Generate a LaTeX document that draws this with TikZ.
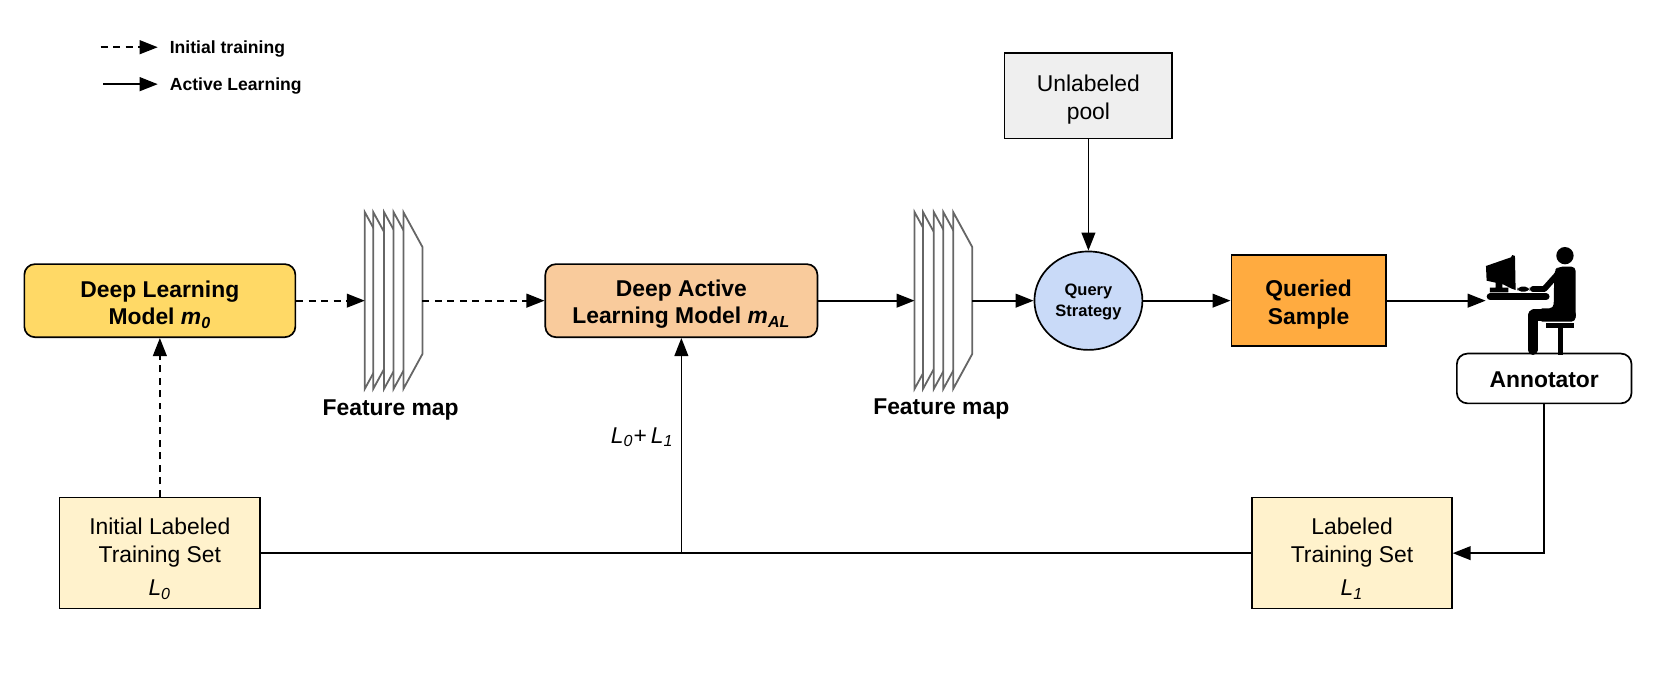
\documentclass[tikz,border=0pt]{standalone}
\usepackage{fontspec}
\setmainfont{Liberation Sans}
\usetikzlibrary{shapes.geometric, arrows.meta}
\definecolor{modelyellow}{HTML}{FFD966}
\definecolor{modelorange}{HTML}{F9CB9C}
\definecolor{querysample}{HTML}{FFAB40}
\definecolor{queryblue}{HTML}{C9DAF8}
\definecolor{setyellow}{HTML}{FFF2CC}
\definecolor{poolgrey}{HTML}{EFEFEF}
\definecolor{plategrey}{HTML}{666666}
\tikzstyle{txt} = [font=\fontsize{10.8}{13}\selectfont, align=center, text=black]
\tikzstyle{modelbox} = [txt, text height=24.3pt, rectangle, draw, line width=0.8pt, rounded corners=5pt, minimum height=34.5pt, inner sep=0pt]
\tikzstyle{modely} = [modelbox, minimum width=128pt, fill=modelyellow]
\tikzstyle{modelo} = [modelbox, minimum width=128.5pt, fill=modelorange]
\tikzstyle{setbox} = [txt, text height=41.8pt, rectangle, draw, line width=0.6pt, minimum width=94.5pt, minimum height=52.5pt, inner sep=0pt, fill=setyellow]
\tikzstyle{poolbox} = [txt, text height=24.3pt, rectangle, draw, line width=0.6pt, minimum width=79pt, minimum height=40.5pt, inner sep=0pt, fill=poolgrey]
\tikzstyle{samplebox} = [txt, text height=24.3pt, rectangle, draw, line width=0.8pt, minimum width=73pt, minimum height=43pt, inner sep=0pt, fill=querysample]
\tikzstyle{querynode} = [font=\fontsize{7.8}{10}\selectfont\bfseries, align=center, text height=16.7pt, ellipse, draw, line width=0.8pt, minimum width=51pt, minimum height=46.5pt, inner sep=0pt, fill=queryblue]
\tikzstyle{annotbox} = [txt, text height=8.8pt, rectangle, draw, line width=0.8pt, rounded corners=5pt, minimum width=82.5pt, minimum height=23.5pt, inner sep=0pt, fill=white]
\tikzstyle{blank} = [inner sep=0,outer sep=0]
\tikzstyle{plates} = [blank, minimum width=27.25pt, minimum height=83.65pt]
\tikzstyle{plate} = [draw=plategrey, line width=0.85pt, fill=white, line join=miter]
\tikzstyle{legendtxt} = [font=\fontsize{8.3}{10}\selectfont\bfseries, text height=8pt, inner sep=5.5pt, anchor=west]
\tikzstyle{line} = [draw, line width=0.8pt, -{Triangle[length=8.5pt,width=6.5pt]}]
\tikzstyle{plainline} = [draw, line width=0.8pt]
\tikzstyle{dashline} = [line, dash pattern=on 3.3pt off 2.6pt]
\newcommand{\featureplates}[1]{
  \begin{scope}[shift={(#1.north west)}]
    \foreach \dx in {0,8,18.2,27.2,36.5}
      \draw [plate] (\dx,0) -- (\dx+18,33) -- (\dx+18,134) -- (\dx,167) -- cycle;
  \end{scope}
}

\begin{document}
\begin{tikzpicture}[x=0.5pt, y=-0.5pt, node distance=100pt, auto]
\useasboundingbox (0,0) rectangle (1568,635.7);

\node [modely] (dl) at (151,284) {\textbf{Deep Learning}\\\textbf{Model \textit{m}\textsubscript{\textit{0}}}};
\node [plates, right of=dl, xshift=10.4pt] (fm1) {};
\node [modelo, right of=fm1, xshift=35.9pt] (dal) {\textbf{Deep Active}\\\textbf{Learning Model \textit{m}\textsubscript{\textit{AL}}}};
\node [plates, right of=dal, xshift=23.75pt] (fm2) {};
\node [querynode, right of=fm2, xshift=-31.5pt] (query) {Query\\Strategy};
\node [samplebox, right of=query, xshift=4pt] (queried) {\textbf{Queried}\\\textbf{Sample}};
\node [poolbox, above of=query, yshift=-3.25pt] (pool) {Unlabeled\\pool};
\node [annotbox, right of=queried, xshift=11.25pt, yshift=-36.75pt] (annotator) {\textbf{Annotator}};
\node [setbox, below of=dl, yshift=-19.25pt] (init) {Initial Labeled\\[0.5pt]Training Set\\[2.5pt]\textit{L}\textsubscript{\textit{0}}};
\node [setbox, below of=queried, xshift=20.5pt, yshift=-19.25pt] (labeled) {Labeled\\[0.5pt]Training Set\\[2.5pt]\textit{L}\textsubscript{\textit{1}}};

\node [txt, below of=fm1, xshift=-1.4pt, yshift=48.5pt] (fmlabel1) {\textbf{Feature map}};
\node [txt, below of=fm2, xshift=-1pt, yshift=49pt] (fmlabel2) {\textbf{Feature map}};

\featureplates{fm1}
\featureplates{fm2}

% legend
\node [legendtxt] (legdash) at (149,44.6) {Initial training};
\node [legendtxt] (legsolid) at (149,79.5) {Active Learning};
\coordinate (legdash0) at (95,44.6);
\coordinate (legsolid0) at (97.5,79.5);
\path [dashline] (legdash0) -- (legdash);
\path [line] (legsolid0) -- (legsolid);

\coordinate (desk) at (1403.3,284);
\coordinate (merge) at (dal.south |- init.east);

\path [dashline] (dl) -- (fm1);
\path [dashline] (fm1) -- (dal);
\path [dashline] (init) -- (dl);
\path [line] (dal) -- (fm2);
\path [line] (fm2) -- (query);
\path [line] (pool) -- (query);
\path [line] (query) -- (queried);
\path [line] (queried) -- (desk);
\path [line] (annotator.south) |- (labeled.east);
\path [plainline] (init.east) -- (merge);
\path [plainline] (labeled.west) -- (merge);
\path [line] (merge) -- node[txt, left, pos=0.54] (sumlabel) {\textit{L}\textsubscript{\textit{0}}+\,\textit{L}\textsubscript{\textit{1}}} (dal);

% person at the desk
\begin{scope}[shift={(1393.2,226.7)}, scale=0.3149]
  \fill (270,47) circle (26);
  \fill [rounded corners=2pt] (238,92) -- (250,80) -- (302,80) -- (302,245) -- (190,245) -- (190,205) -- (236,205) -- cycle;
  \draw [line width=4.7pt, line cap=round] (173,225) -- (173,330);
  \draw [line width=5.6pt, line cap=round] (178,226) -- (285,226);
  \draw [line width=2.8pt, line cap=round, line join=round] (250,100) -- (208,147) -- (174,147);
  \fill (212,250) rectangle (298,264);
  \fill (248,264) rectangle (263,345);
  \draw [line width=3.4pt, line cap=round] (46,170) -- (213,170);
  \fill (33,78) -- (108,52) -- (112,45) -- (120,48) -- (122,150) -- (110,146) -- (82,132) -- (82,143) -- (100,143) -- (100,157) -- (45,157) -- (45,143) -- (62,143) -- (62,128) -- (35,122) -- cycle;
  \fill [rounded corners=2pt] (127,140) rectangle (163,155);
  \fill [rounded corners=2pt] (167,139) rectangle (200,155);
\end{scope}

\end{tikzpicture}
\end{document}
